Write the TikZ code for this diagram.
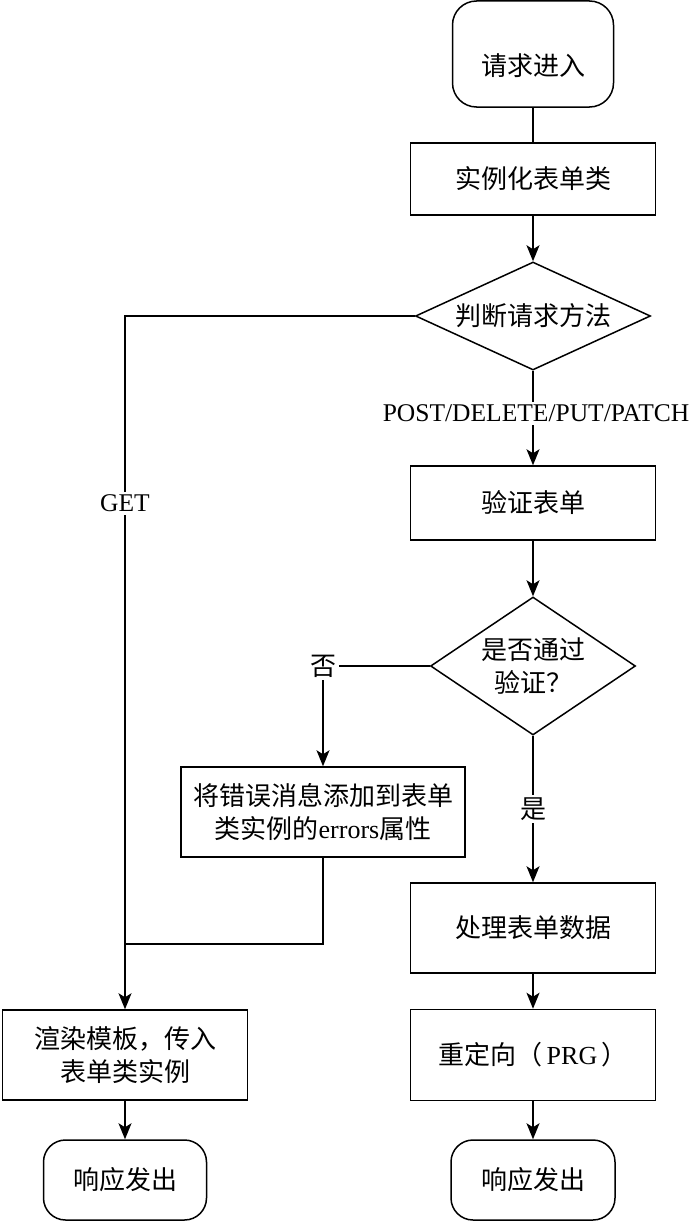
\documentclass[tikz,border=0pt]{standalone}
\usepackage{fontspec}
\setmainfont{Liberation Serif}
\newfontfamily\cjk{Noto Sans CJK SC}
\usetikzlibrary{shapes.geometric,arrows.meta}
\begin{document}
\begin{tikzpicture}[x=1pt,y=-1pt,
  base/.style={draw, line width=1.5pt, inner sep=0pt, align=center, text=black,
    font={\cjk\fontsize{26}{33}\selectfont}},
  term/.style={base, rectangle, rounded corners=24pt},
  proc/.style={base, rectangle, minimum width=245pt},
  dec/.style={base, diamond},
  lbl/.style={fill=white, inner sep=3pt, text=black, font={\cjk\fontsize{26}{33}\selectfont}},
  latin/.style={font={\rmfamily\fontsize{25.5}{30}\selectfont}},
  conn/.style={line width=1.5pt},
  arr/.style={conn, -{Stealth[length=16pt,width=13pt,inset=4pt]}}
]
\useasboundingbox[fill=white] (0,0) rectangle (690,1223);

\node[term, minimum width=161pt, minimum height=106pt, text height=47pt, text depth=3pt] (start) at (533,54) {请求进入};
\node[proc, minimum height=72pt] (inst) at (533,179) {实例化表单类};
\node[dec, aspect=2.18, minimum width=235pt, minimum height=108pt] (d1) at (533,316) {判断请求方法};
\node[proc, minimum height=74pt] (valid) at (533,503) {验证表单};
\node[dec, aspect=1.49, minimum width=205pt, minimum height=138pt] (d2) at (533,666) {是否通过\\验证？};
\node[proc, minimum width=284pt, minimum height=90pt] (err) at (323,812) {将错误消息添加到表单\\类实例的{\rmfamily errors}属性};
\node[proc, minimum height=90pt] (proc) at (533,928) {处理表单数据};
\node[proc, minimum height=91pt] (redir) at (533,1055) {重定向（{\rmfamily\,PRG\,}）};
\node[proc, minimum height=90pt] (render) at (125,1055) {渲染模板，传入\\表单类实例};
\node[term, rounded corners=22pt, minimum width=163pt, minimum height=80pt] (end1) at (125,1180) {响应发出};
\node[term, rounded corners=22pt, minimum width=164pt, minimum height=80pt] (end2) at (533,1180) {响应发出};
\coordinate (join) at (125,944);

\draw[conn] (start) -- (inst);
\draw[arr] (inst) -- (d1);
\draw[arr] (d1) -- node[lbl, latin, pos=0.45, xshift=3pt]{POST/DELETE/PUT/PATCH} (valid);
\draw[arr] (d1.west) -| node[lbl, latin, pos=0.635]{GET} (render.north);
\draw[arr] (valid) -- (d2);
\draw[arr] (d2.west) -| node[lbl, pos=0.5]{否} (err.north);
\draw[arr] (d2) -- node[lbl]{是} (proc);
\draw[conn] (err.south) |- (join);
\draw[arr] (proc) -- (redir);
\draw[arr] (redir) -- (end2);
\draw[arr] (render) -- (end1);
\end{tikzpicture}
\end{document}
